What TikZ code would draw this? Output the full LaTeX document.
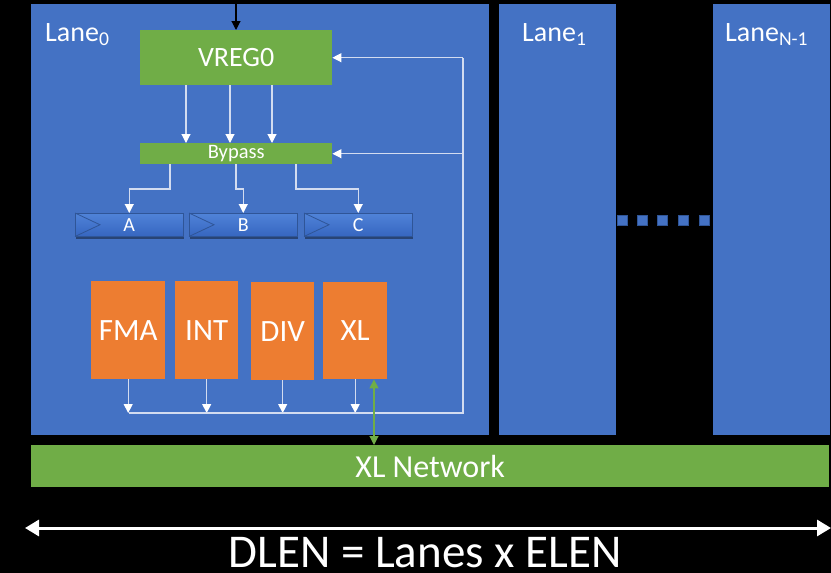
\documentclass[tikz,border=0pt]{standalone}
\usepackage{fontspec}
\setmainfont{Carlito}
\usetikzlibrary{arrows.meta,shadows,calc}

\definecolor{laneblue}{HTML}{4472C4}
\definecolor{regreen}{HTML}{70AD47}
\definecolor{unitorange}{HTML}{ED7D31}
\definecolor{wire}{HTML}{D3DCF0}
\definecolor{edgeblue}{HTML}{2F5597}
\definecolor{pipetop}{HTML}{5083D8}
\definecolor{pipebot}{HTML}{3666C0}

\tikzset{
  lane/.style={fill=laneblue, anchor=north west, inner sep=0pt},
  lanelabel/.style={anchor=base west, text=white, inner sep=0pt, font=\fontsize{28}{30}\selectfont},
  greenbox/.style={fill=regreen, text=white, anchor=north west, inner sep=0pt},
  unit/.style={fill=unitorange, text=white, anchor=north west, inner sep=0pt,
    font=\fontsize{31}{32}\selectfont},
  pipe/.style={anchor=north west, inner sep=0pt, minimum width=108pt, minimum height=23pt,
    top color=pipetop, bottom color=pipebot, draw=edgeblue, line width=0.5pt,
    drop shadow={shadow xshift=1pt, shadow yshift=-2.5pt, opacity=0.4, fill=black},
    text=white, font=\fontsize{20}{20}\selectfont},
  wirearrow/.style={draw=wire, line width=1.1pt, -{Triangle[width=9pt,length=9pt,fill=white,color=white]}},
  wireline/.style={draw=wire, line width=1.1pt},
}

\begin{document}
\begin{tikzpicture}[x=1pt, y=-1pt]
  % page and background
  \fill[black] (0,0) rectangle (831,573);
  \useasboundingbox (0,0) rectangle (831,573);

  % lanes
  \node[lane, minimum width=458pt, minimum height=431pt] (lane0) at (31,4) {};
  \node[lane, minimum width=117pt, minimum height=431pt] (lane1) at (499,4) {};
  \node[lane, minimum width=117pt, minimum height=431pt] (laneN) at (713,4) {};
  \node[lanelabel] (lab0) at (45,41) {Lane\textsubscript{0}};
  \node[lanelabel] (lab1) at (522,41) {Lane\textsubscript{1}};
  \node[lanelabel] (labN) at (725,41) {Lane\textsubscript{N-1}};

  % dots between lanes
  \foreach \dx [count=\i] in {617,637,657,678,699}
    \node[fill=laneblue, draw=edgeblue, line width=0.4pt, inner sep=0pt,
          minimum size=10pt, anchor=north west] (dot\i) at (\dx,215) {};

  % register file and bypass network
  \node[greenbox, minimum width=192pt, minimum height=55pt,
        font=\fontsize{28}{28}\selectfont] (vreg) at (140,30) {VREG0};
  \node[greenbox, minimum width=192pt, minimum height=21pt,
        font=\fontsize{20.5}{20}\selectfont] (bypass) at (140,143) {Bypass};

  % operand pipeline registers
  \foreach \nm/\px in {A/75,B/189,C/304}{
    \node[pipe] (\nm) at (\px,213) {\nm};
    \draw[edgeblue, line width=0.8pt] (\nm.north west) -- ($(\nm.west)+(25,0)$) -- (\nm.south west);
  }

  % functional units
  \node[unit, minimum width=74pt, minimum height=98pt] (fma) at (91,281) {FMA};
  \node[unit, minimum width=63pt, minimum height=98pt] (int) at (175,281) {INT};
  \node[unit, minimum width=63pt, minimum height=98pt] (div) at (251,282) {DIV};
  \node[unit, minimum width=64pt, minimum height=97pt] (xl)  at (323,282) {XL};

  % crossbar network
  \node[greenbox, minimum width=798pt, minimum height=42pt,
        font=\fontsize{32}{32}\selectfont] (net) at (31,445) {XL Network};

  % input to register file
  \coordinate (in) at (236,0);
  \draw[black, line width=1.1pt, -{Triangle[width=9pt,length=9pt]}] (in) -- (in |- vreg.north);

  % register file read ports
  \foreach \px in {186,230,272}
    \draw[wirearrow] (\px,0 |- vreg.south) -- (\px,0 |- bypass.north);

  % bypass to operand registers
  \draw[wirearrow] (170,0 |- bypass.south) -- (170,189) -| (A.north);
  \draw[wirearrow] (236,0 |- bypass.south) -- (236,189) -| (B.north);
  \draw[wirearrow] (296,0 |- bypass.south) -- (296,189) -| (C.north);

  % result bus and write-back
  \coordinate (busL) at (129,413);
  \coordinate (busR) at (463,413);
  \coordinate (fbB) at (463,0 |- bypass.east);
  \coordinate (fbV) at (463,0 |- vreg.east);
  \foreach \u in {fma,int,div,xl}
    \draw[wirearrow] (\u.south) -- (\u.south |- busL);
  \draw[wireline] (busL) -- (busR) -- (fbV);
  \draw[wirearrow] (fbV) -- (vreg.east);
  \draw[wirearrow] (fbB) -- (bypass.east);

  % XL unit to network
  \coordinate (xlport) at (374,0 |- xl.south);
  \draw[regreen, line width=1.1pt, {Triangle[width=9pt,length=9pt]}-{Triangle[width=9pt,length=9pt]}]
    (xlport) -- (xlport |- net.north);

  % vector length dimension
  \coordinate (dl) at (25,528);
  \coordinate (dr) at (831,528);
  \draw[white, line width=3pt, {Triangle[width=16pt,length=14pt]}-{Triangle[width=16pt,length=14pt]}] (dl) -- (dr);
  \node[text=white, inner sep=0pt, anchor=base, font=\fontsize{47}{47}\selectfont] (dlen) at (425,567) {DLEN = Lanes x ELEN};
\end{tikzpicture}
\end{document}
